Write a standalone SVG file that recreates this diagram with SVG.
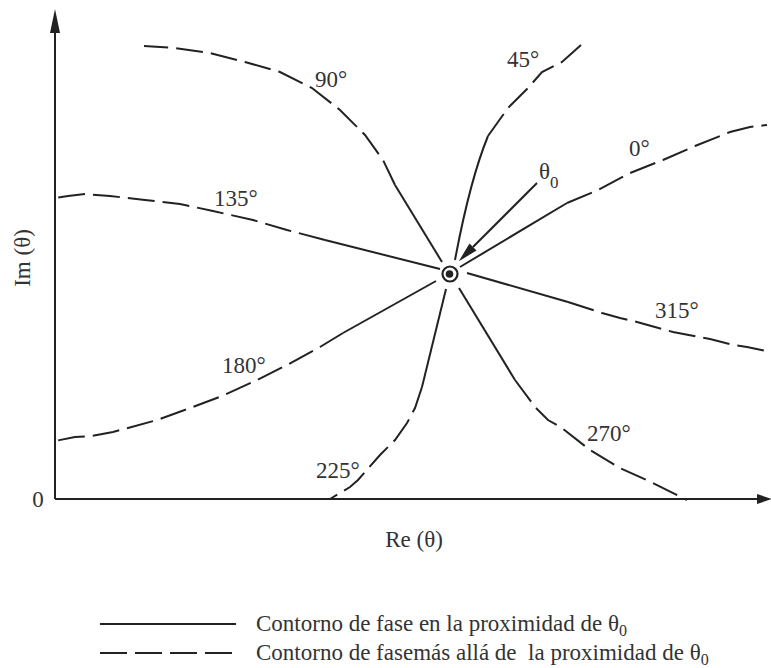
<svg xmlns="http://www.w3.org/2000/svg" width="771" height="668" viewBox="0 0 771 668">
<style>
text{font-family:"Liberation Serif","Times New Roman",serif;font-size:23px;fill:#333}
.s{fill:none;stroke:#222;stroke-width:2}
.d{fill:none;stroke:#222;stroke-width:2;stroke-dasharray:27 8}
.ax{fill:none;stroke:#222;stroke-width:2}
</style>
<defs>
<marker id="ahy" viewBox="0 0 24 10" refX="0" refY="5" markerWidth="24" markerHeight="10" markerUnits="userSpaceOnUse" orient="auto">
<path d="M0,0 L24,5 L0,10 z" fill="#222"/>
</marker>
<marker id="ahx" viewBox="0 0 15 10" refX="0" refY="5" markerWidth="15" markerHeight="10" markerUnits="userSpaceOnUse" orient="auto">
<path d="M0,0 L15,5 L0,10 z" fill="#222"/>
</marker>
<marker id="ah2" viewBox="0 0 20 10" refX="0" refY="5" markerWidth="20" markerHeight="10" markerUnits="userSpaceOnUse" orient="auto">
<path d="M0,0 L20,5 L0,10 z" fill="#222"/>
</marker>
</defs>
<g id="axes">
<path class="ax" d="M55,499 V33" marker-end="url(#ahy)"/>
<path class="ax" d="M55,499 H757" marker-end="url(#ahx)"/>
<text x="38" y="507" text-anchor="middle">0</text>
<text x="414" y="547" text-anchor="middle">Re (θ)</text>
<text transform="translate(30,258) rotate(-90)" text-anchor="middle">Im (θ)</text>
</g>
<g id="connectors">
<g id="c90">
<polyline class="d" points="395,185 383,160 365,135 340,110 312,88 280,72 245,62 210,53 175,48 144,46"/>
<line class="s" x1="442" y1="262" x2="395" y2="185"/>
<text x="315" y="87">90°</text>
</g>
<g id="c45">
<path class="s" d="M455,260 Q470,180 488,136"/>
<polyline class="d" points="488,136 508,108 528,88 542,72 562,62 581,45"/>
<text x="507" y="67">45°</text>
</g>
<g id="c0">
<line class="s" x1="460" y1="267" x2="567" y2="203"/>
<polyline class="d" points="567,203 598,190 630,173 663,160 695,146 730,132 750,127 767,125"/>
<text x="629" y="156">0°</text>
</g>
<g id="c135">
<line class="s" x1="440" y1="269" x2="325" y2="240"/>
<polyline class="d" points="325,240 287,230 253,220 213,211 180,204 145,200 110,196 85,194 68,196 55,198"/>
<text x="214" y="206">135°</text>
</g>
<g id="c180">
<line class="s" x1="436" y1="281" x2="343" y2="333"/>
<polyline class="d" points="343,333 320,347 287,365 255,381 222,396 190,408 157,420 128,428 113,432 92,436 75,437 55,441"/>
<text x="222" y="373">180°</text>
</g>
<g id="c225">
<line class="s" x1="446" y1="289" x2="422" y2="387"/>
<polyline class="d" points="422,387 415,408 407,423 395,440 380,455 358,480 350,487 330,499"/>
<text x="316" y="478">225°</text>
</g>
<g id="c270">
<line class="s" x1="459" y1="288" x2="515" y2="380"/>
<polyline class="d" points="515,380 535,407 548,420 562,428 590,450 620,468 653,483 687,500"/>
<text x="587" y="441">270°</text>
</g>
<g id="c315">
<line class="s" x1="467" y1="273" x2="568" y2="302"/>
<polyline class="d" points="568,302 602,313 620,318 637,322 673,332 710,339 733,345 747,347 771,352"/>
<text x="655" y="318">315°</text>
</g>
<g id="theta0">
<path class="s" d="M537,183 L473,247" marker-end="url(#ah2)"/>
<text x="539" y="179">θ<tspan font-size="17" dy="9">0</tspan></text>
</g>
</g>
<g id="center">
<circle cx="450" cy="274" r="7.5" fill="none" stroke="#222" stroke-width="2.2"/>
<circle cx="449.5" cy="274" r="3.8" fill="#222"/>
</g>
<g id="legend">
<line class="s" x1="100" y1="624" x2="236" y2="624"/>
<text x="256" y="631">Contorno de fase en la proximidad de θ<tspan font-size="16" dy="5">0</tspan></text>
<line class="d" x1="100" y1="653" x2="236" y2="653"/>
<text x="256" y="660">Contorno de fasemás allá de&#160; la proximidad de θ<tspan font-size="16" dy="5">0</tspan></text>
</g>
</svg>
